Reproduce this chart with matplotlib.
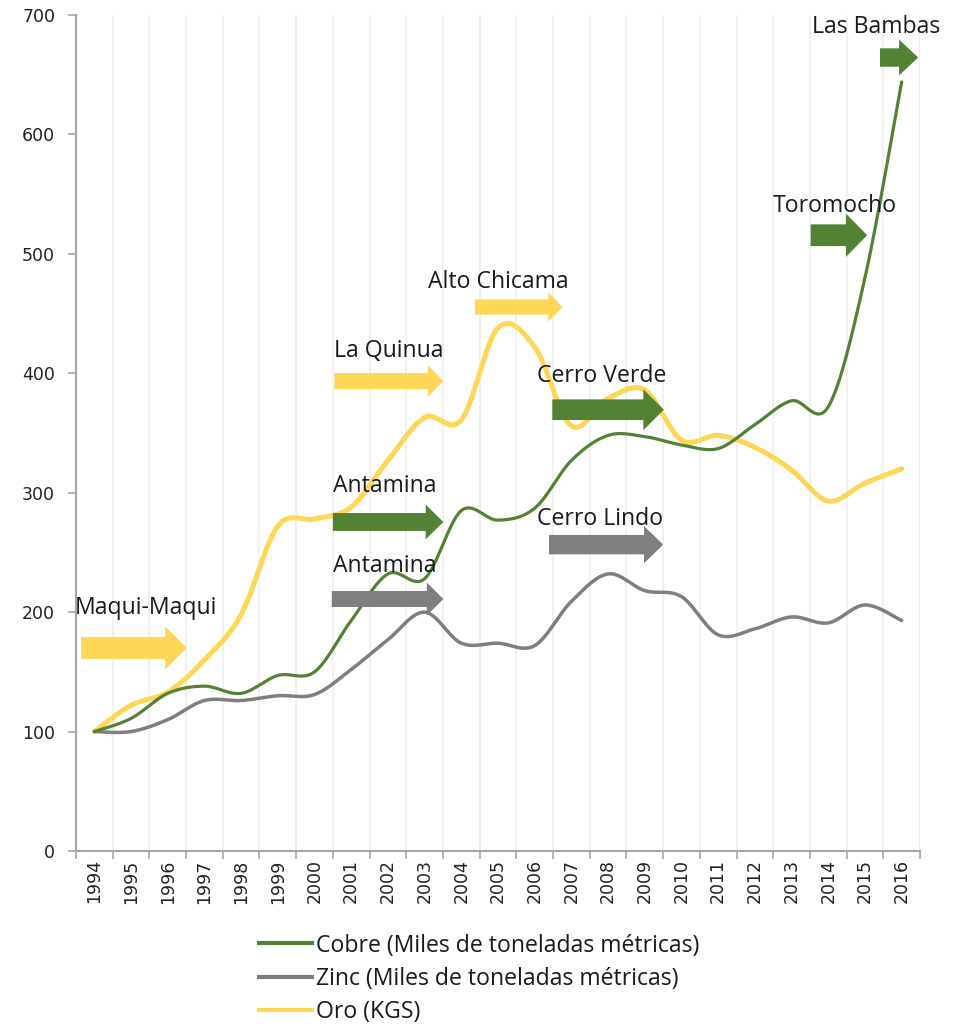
import numpy as np
import matplotlib
matplotlib.use("Agg")
import matplotlib.pyplot as plt
from matplotlib.patches import FancyArrow
from matplotlib.lines import Line2D
from matplotlib.ticker import FixedLocator

# ---------------- data ----------------
years = [str(y) for y in range(1994, 2017)]
cobre = [100, 111, 132, 138, 132, 147, 150, 193, 232, 228, 285, 277, 287,
         327, 348, 347, 340, 337, 357, 377, 372, 480, 644]
zinc = [100, 100, 110, 126, 126, 130, 131, 152, 177, 200, 174, 174, 172,
        209, 232, 218, 213, 181, 186, 196, 191, 206, 193]
oro = [100, 122, 133, 160, 198, 272, 278, 288, 327, 363, 361, 438, 422,
       356, 379, 386, 344, 348, 338, 319, 293, 308, 320]

series_labels = ["Cobre (Miles de toneladas métricas)",
                 "Zinc (Miles de toneladas métricas)",
                 "Oro (KGS)"]

mines = ["Maqui-Maqui", "Antamina", "Antamina", "La Quinua", "Alto Chicama",
         "Cerro Verde", "Cerro Lindo", "Toromocho", "Las Bambas"]
mine_series = ["oro", "cobre", "zinc", "oro", "oro",
               "cobre", "zinc", "cobre", "cobre"]

GREEN = "#548235"
GRAY = "#7F7F7F"
YELLOW = "#FFD757"
colors = {"cobre": GREEN, "zinc": GRAY, "oro": YELLOW}

plt.rcParams["font.family"] = ["DejaVu Sans"]

fig = plt.figure(figsize=(9.56, 10.26), dpi=100)
ax = fig.add_axes([76 / 956, 1 - 851 / 1026, (920 - 76) / 956, (851 - 15) / 1026])

x = np.arange(len(years))


def smooth(xs, ys, n=24):
    """Catmull-Rom smoothing (like Excel's 'smoothed line')."""
    xs = np.asarray(xs, float)
    ys = np.asarray(ys, float)
    P = np.column_stack([xs, ys])
    P = np.vstack([P[0], P, P[-1]])
    out = []
    for i in range(1, len(P) - 2):
        p0, p1, p2, p3 = P[i - 1], P[i], P[i + 1], P[i + 2]
        c1 = p1 + (p2 - p0) / 6.0
        c2 = p2 - (p3 - p1) / 6.0
        t = np.linspace(0, 1, n, endpoint=False)[:, None]
        pts = ((1 - t) ** 3) * p1 + 3 * ((1 - t) ** 2) * t * c1 + \
            3 * (1 - t) * t ** 2 * c2 + t ** 3 * p2
        out.append(pts)
    out.append(P[-2][None, :])
    out = np.vstack(out)
    return out[:, 0], out[:, 1]


for vals, col, lw in [(oro, YELLOW, 3.6), (zinc, GRAY, 2.5), (cobre, GREEN, 2.3)]:
    sx, sy = smooth(x, vals)
    ax.plot(sx, sy, color=col, lw=lw, solid_capstyle="round", zorder=3)

ax.set_xlim(-0.5, len(years) - 0.5)
ax.set_ylim(0, 700)
ax.set_yticks(np.arange(0, 701, 100))

ax.set_xticks(x)
ax.set_xticklabels(years, rotation=90)
ax.xaxis.set_minor_locator(FixedLocator(np.arange(-0.5, len(years), 1.0)))
ax.tick_params(axis="x", which="major", length=0, pad=6, labelsize=12.5, colors="#222222")
ax.tick_params(axis="x", which="minor", length=6, width=1.2, color="#A6A6A6")
ax.tick_params(axis="y", length=6, width=1.2, color="#A6A6A6", pad=9,
               labelsize=12.5, labelcolor="#222222")
ax.grid(axis="x", which="minor", color="#EFEFEF", lw=1.2, zorder=0)
ax.set_axisbelow(True)
for s in ["top", "right"]:
    ax.spines[s].set_visible(False)
for s in ["left", "bottom"]:
    ax.spines[s].set_color("#A6A6A6")
    ax.spines[s].set_linewidth(1.5)

# ---- arrows + labels (annotation layout) ----
arrow_geom = [  # x0, x1, yc, body, head, head_len, text_x, text_y
    (-0.36, 2.52, 170, 18.4, 36.0, 0.59, -0.53, 198.5),
    (6.50, 9.51, 275.5, 15.0, 29.0, 0.48, 6.50, 301.0),
    (6.47, 9.51, 211.0, 13.4, 27.6, 0.45, 6.50, 234.0),
    (6.54, 9.51, 393.5, 13.4, 26.5, 0.42, 6.54, 413.4),
    (10.37, 12.76, 455.5, 12.6, 24.6, 0.39, 9.10, 471.2),
    (12.48, 15.52, 369.5, 17.3, 34.3, 0.56, 12.05, 393.0),
    (12.39, 15.50, 256.5, 16.2, 31.2, 0.52, 12.07, 273.0),
    (19.52, 21.06, 515.6, 18.2, 36.3, 0.58, 18.49, 534.8),
    (21.41, 22.45, 664.4, 15.4, 30.0, 0.52, 19.55, 684.6),
]
for name, key, g in zip(mines, mine_series, arrow_geom):
    x0, x1, yc, body, head, hl, tx, ty = g
    arr = FancyArrow(x0, yc, x1 - x0, 0, width=body, head_width=head,
                     head_length=hl, length_includes_head=True,
                     color=colors[key], lw=0, zorder=4, clip_on=False)
    ax.add_patch(arr)
    ax.text(tx, ty, name, ha="left", va="baseline", fontsize=16.6,
            family=["Open Sans", "DejaVu Sans"], color="#1A1A1A", zorder=5)

handles = [Line2D([], [], color=GREEN, lw=3),
           Line2D([], [], color=GRAY, lw=3),
           Line2D([], [], color=YELLOW, lw=3)]
leg = fig.legend(handles, series_labels, loc="upper left",
                 bbox_to_anchor=(247 / 956, 1 - 922 / 1026),
                 frameon=False, handlelength=2.3, handletextpad=0.2,
                 labelspacing=0.41, borderpad=0,
                 prop={"family": ["Open Sans", "DejaVu Sans"], "size": 16.6})
for t in leg.get_texts():
    t.set_color("#1A1A1A")

fig.savefig("out.png", dpi=100)
